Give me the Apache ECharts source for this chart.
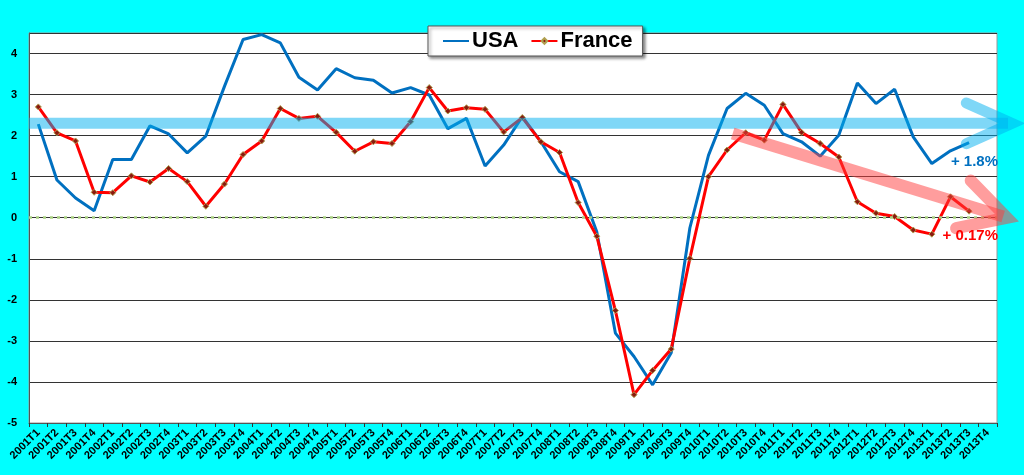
<!DOCTYPE html>
<html>
<head>
<meta charset="utf-8">
<script src="https://cdn.jsdelivr.net/npm/echarts@6/dist/echarts.min.js"></script>
<style>
  html, body { margin: 0; padding: 0; background: #00ffff; }
  #chart { width: 1024px; height: 475px; }
</style>
</head>
<body>
<div id="chart"></div>
<script>
var years = ['2001', '2002', '2003', '2004', '2005', '2006', '2007', '2008', '2009', '2010', '2011', '2012', '2013'];
var quarters = [];
years.forEach(function (y) {
    ['T1', 'T2', 'T3', 'T4'].forEach(function (q) { quarters.push(y + q); });
});

var usa = [2.28, 0.92, 0.48, 0.17, 1.42, 1.42, 2.24, 2.04, 1.58, 1.99,
    3.20, 4.34, 4.46, 4.26, 3.42, 3.11, 3.63, 3.41, 3.35, 3.04,
    3.17, 2.99, 2.17, 2.42, 1.26, 1.77, 2.46, 1.85, 1.12, 0.88,
    -0.34, -2.81, -3.38, -4.07, -3.29, -0.25, 1.52, 2.66, 3.03, 2.74,
    2.05, 1.85, 1.50, 2.01, 3.28, 2.78, 3.13, 1.97, 1.32, 1.63,
    1.83, null];

var france = [2.70, 2.07, 1.87, 0.62, 0.61, 1.02, 0.87, 1.20, 0.88, 0.28,
    0.82, 1.54, 1.87, 2.66, 2.42, 2.47, 2.08, 1.62, 1.85, 1.81,
    2.34, 3.17, 2.60, 2.68, 2.64, 2.09, 2.44, 1.85, 1.59, 0.37,
    -0.45, -2.26, -4.31, -3.72, -3.20, -0.99, 1.00, 1.65, 2.07, 1.89,
    2.76, 2.08, 1.81, 1.48, 0.39, 0.11, 0.03, -0.30, -0.40, 0.51,
    0.16, null];

// trend annotations (value axis units)
var usaTrend = 2.3;
var franceTrend = [2.05, 0.0];
var usaNote = '+ 1.8%';
var franceNote = '+ 0.17%';

var G = { left: 29, right: 27, top: 33, bottom: 52 };

var chart = echarts.init(document.getElementById('chart'));
chart.setOption({
    backgroundColor: '#00ffff',
    animation: false,
    grid: { left: G.left, right: G.right, top: G.top, bottom: G.bottom, show: true,
        backgroundColor: '#ffffff', borderColor: '#999999', borderWidth: 1 },
    legend: {
        left: 428, top: 26, padding: [4, 10, 4, 14], itemGap: 12,
        itemWidth: 26, itemHeight: 7,
        backgroundColor: '#ffffff', borderColor: '#555555', borderWidth: 1,
        shadowColor: 'rgba(0,0,0,0.45)', shadowBlur: 3, shadowOffsetX: 2, shadowOffsetY: 2,
        textStyle: { fontFamily: 'Liberation Sans, Arial', fontWeight: 'bold', fontSize: 22, color: '#000',
            padding: [0, 0, 0, -2] },
        data: [{ name: 'USA', itemStyle: { opacity: 0 } }, 'France']
    },
    xAxis: {
        type: 'category', data: quarters, boundaryGap: true,
        axisLine: { onZero: false, lineStyle: { color: '#555', width: 1 } },
        axisTick: { show: true, length: 4, lineStyle: { color: '#333' } },
        axisLabel: { rotate: 45, interval: 0, margin: 8, fontFamily: 'Liberation Sans, Arial',
            fontWeight: 'bold', fontSize: 11, color: '#000' },
        splitLine: { show: false }
    },
    yAxis: {
        type: 'value', min: -5, max: 4.5, interval: 1,
        axisLine: { show: true, lineStyle: { color: '#555' } },
        axisTick: { show: false },
        axisLabel: { margin: 12, fontFamily: 'Liberation Sans, Arial', fontWeight: 'bold', fontSize: 11,
            color: '#000', formatter: function (v) { return v % 1 === 0 ? String(v) : ''; } },
        splitLine: { lineStyle: { color: '#333333', width: 1 } }
    },
    series: [
        {
            name: 'USA', type: 'line', data: usa, showSymbol: false, symbol: 'none',
            lineStyle: { color: '#0070c0', width: 3 }, itemStyle: { color: '#0070c0' },
            z: 3,
            markLine: {
                silent: true, symbol: 'none', label: { show: false },
                lineStyle: { color: '#a8d080', type: [3, 4], width: 2.5 },
                data: [{ yAxis: 0 }]
            }
        },
        {
            name: 'France', type: 'line', data: france, symbol: 'diamond', symbolSize: 6,
            showSymbol: true,
            lineStyle: { color: '#ff0000', width: 3 },
            itemStyle: { color: '#8b1a10', borderColor: '#b0a050', borderWidth: 1 },
            z: 4
        }
    ]
});

// annotation arrows drawn on top, placed with the axis scale
var n = quarters.length;
var plotW = 1024 - G.left - G.right;
var step = plotW / n;
function px(i) { return G.left + (i + 0.5) * step; }
function py(v) { return chart.convertToPixel({ yAxisIndex: 0 }, v); }

function chevron(tx, ty, ang, len, spread) {
    var a1 = ang + Math.PI - spread, a2 = ang + Math.PI + spread;
    return [[tx + len * Math.cos(a1), ty + len * Math.sin(a1)], [tx, ty],
        [tx + len * Math.cos(a2), ty + len * Math.sin(a2)]];
}

var bY = py(usaTrend);
var bTipX = 1012;
var rx0 = px(37.3), ry0 = py(franceTrend[0]);
var rx1 = 1007, ry1 = py(franceTrend[1]);
var rAng = Math.atan2(ry1 - ry0, rx1 - rx0);
var blueCol = 'rgba(0,176,240,0.5)';
var redCol = 'rgba(255,60,60,0.5)';

chart.setOption({
    graphic: [
        { type: 'polyline', silent: true, z: 10,
            shape: { points: [[G.left, bY], [bTipX - 4, bY]] },
            style: { stroke: blueCol, lineWidth: 11, fill: null } },
        { type: 'polyline', silent: true, z: 10,
            shape: { points: chevron(bTipX, bY, 0, 50, 0.42) },
            style: { stroke: blueCol, lineWidth: 11, fill: null, lineCap: 'round', lineJoin: 'miter' } },
        { type: 'polyline', silent: true, z: 10,
            shape: { points: [[rx0, ry0], [rx1 - 4 * Math.cos(rAng), ry1 - 4 * Math.sin(rAng)]] },
            style: { stroke: redCol, lineWidth: 12, fill: null } },
        { type: 'polyline', silent: true, z: 10,
            shape: { points: chevron(rx1, ry1, rAng, 52, 0.5) },
            style: { stroke: redCol, lineWidth: 12, fill: null, lineCap: 'round', lineJoin: 'miter' } },
        { type: 'text', silent: true, z: 11, x: 998, y: py(1.37),
            style: { text: usaNote, fill: '#0070c0', font: 'bold 15px Liberation Sans, Arial',
                align: 'right', verticalAlign: 'middle' } },
        { type: 'text', silent: true, z: 11, x: 998, y: py(-0.45),
            style: { text: franceNote, fill: '#ff0000', font: 'bold 15px Liberation Sans, Arial',
                align: 'right', verticalAlign: 'middle' } }
    ]
});
</script>
</body>
</html>
